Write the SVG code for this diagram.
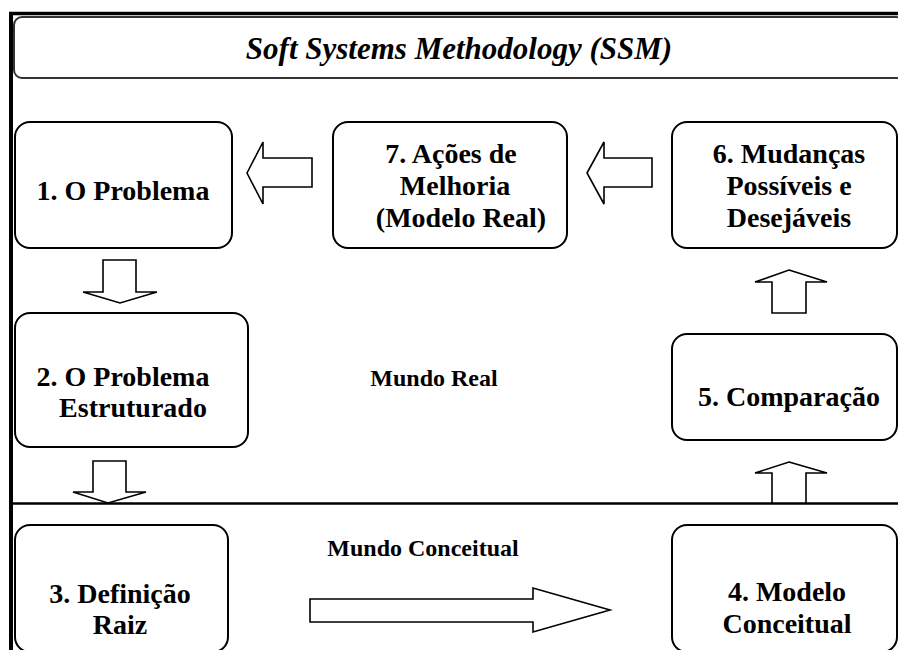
<svg xmlns="http://www.w3.org/2000/svg" width="898" height="650" viewBox="0 0 898 650">
<style>
.box{fill:#fff;stroke:#000;stroke-width:2}
.arr{fill:#fff;stroke:#000;stroke-width:1.6;stroke-linejoin:miter}
.t{font-family:"Liberation Serif","Times New Roman",serif;font-weight:bold;font-size:28px;fill:#000;text-anchor:middle}
.lab{font-family:"Liberation Serif","Times New Roman",serif;font-weight:bold;font-size:24px;fill:#000;text-anchor:middle}
.title{font-family:"Liberation Serif","Times New Roman",serif;font-weight:bold;font-style:italic;font-size:31px;fill:#000;text-anchor:middle}
</style>
<rect width="898" height="650" fill="#fff"/>
<g id="frame" stroke="#000">
<line x1="9" y1="13.5" x2="898" y2="13.5" stroke-width="3.5"/>
<line x1="11" y1="12" x2="11" y2="650" stroke-width="4"/>
<line x1="12" y1="503.5" x2="898" y2="503.5" stroke-width="2.5"/>
</g>
<g id="title">
<rect x="14" y="17" width="890" height="61" rx="8" fill="#fff" stroke="#333" stroke-width="2"/>
<text class="title" x="459" y="59">Soft Systems Methodology (SSM)</text>
</g>
<g id="n1">
<rect class="box" x="15" y="122" width="217" height="126" rx="15"/>
<text class="t" x="123" y="200">1. O Problema</text>
</g>
<g id="n7">
<rect class="box" x="333" y="122" width="234" height="126" rx="15"/>
<text class="t" x="451" y="163">7. Ações de</text>
<text class="t" x="455" y="195">Melhoria</text>
<text class="t" x="461" y="227">(Modelo Real)</text>
</g>
<g id="n6">
<rect class="box" x="672" y="122" width="225" height="126" rx="15"/>
<text class="t" x="789" y="163">6. Mudanças</text>
<text class="t" x="789" y="195">Possíveis e</text>
<text class="t" x="789" y="227">Desejáveis</text>
</g>
<g id="n2">
<rect class="box" x="15" y="313" width="233" height="134" rx="15"/>
<text class="t" x="123" y="386">2. O Problema</text>
<text class="t" x="133" y="417">Estruturado</text>
</g>
<g id="n5">
<rect class="box" x="672" y="334" width="225" height="106" rx="15"/>
<text class="t" x="789" y="406">5. Comparação</text>
</g>
<g id="n3">
<rect class="box" x="15" y="525" width="213" height="127" rx="15"/>
<text class="t" x="120" y="603">3. Definição</text>
<text class="t" x="120" y="634">Raiz</text>
</g>
<g id="n4">
<rect class="box" x="672" y="525" width="225" height="127" rx="15"/>
<text class="t" x="787" y="601">4. Modelo</text>
<text class="t" x="787" y="633">Conceitual</text>
</g>
<g id="labels">
<text class="lab" x="434" y="386">Mundo Real</text>
<text class="lab" x="423" y="556">Mundo Conceitual</text>
</g>
<g id="connectors">
<polygon class="arr" points="247,173 263,142 263,158 312,158 312,187 263,187 263,204"/>
<polygon class="arr" points="587,173 604,142 604,158 652,158 652,187 604,187 604,204"/>
<polygon class="arr" points="103,260 136,260 136,292 157,292 120,303 83,292 103,292"/>
<polygon class="arr" points="93,461 126,461 126,492 146,492 108,503 73,492 93,492"/>
<polygon class="arr" points="789,270 827,282 806,282 806,313 772,313 772,282 755,282"/>
<polygon class="arr" points="789,462 827,473 806,473 806,503 772,503 772,473 755,473"/>
<polygon class="arr" points="310,599 533,599 533,588 610,610 533,632 533,622 310,622"/>
</g>
</svg>
